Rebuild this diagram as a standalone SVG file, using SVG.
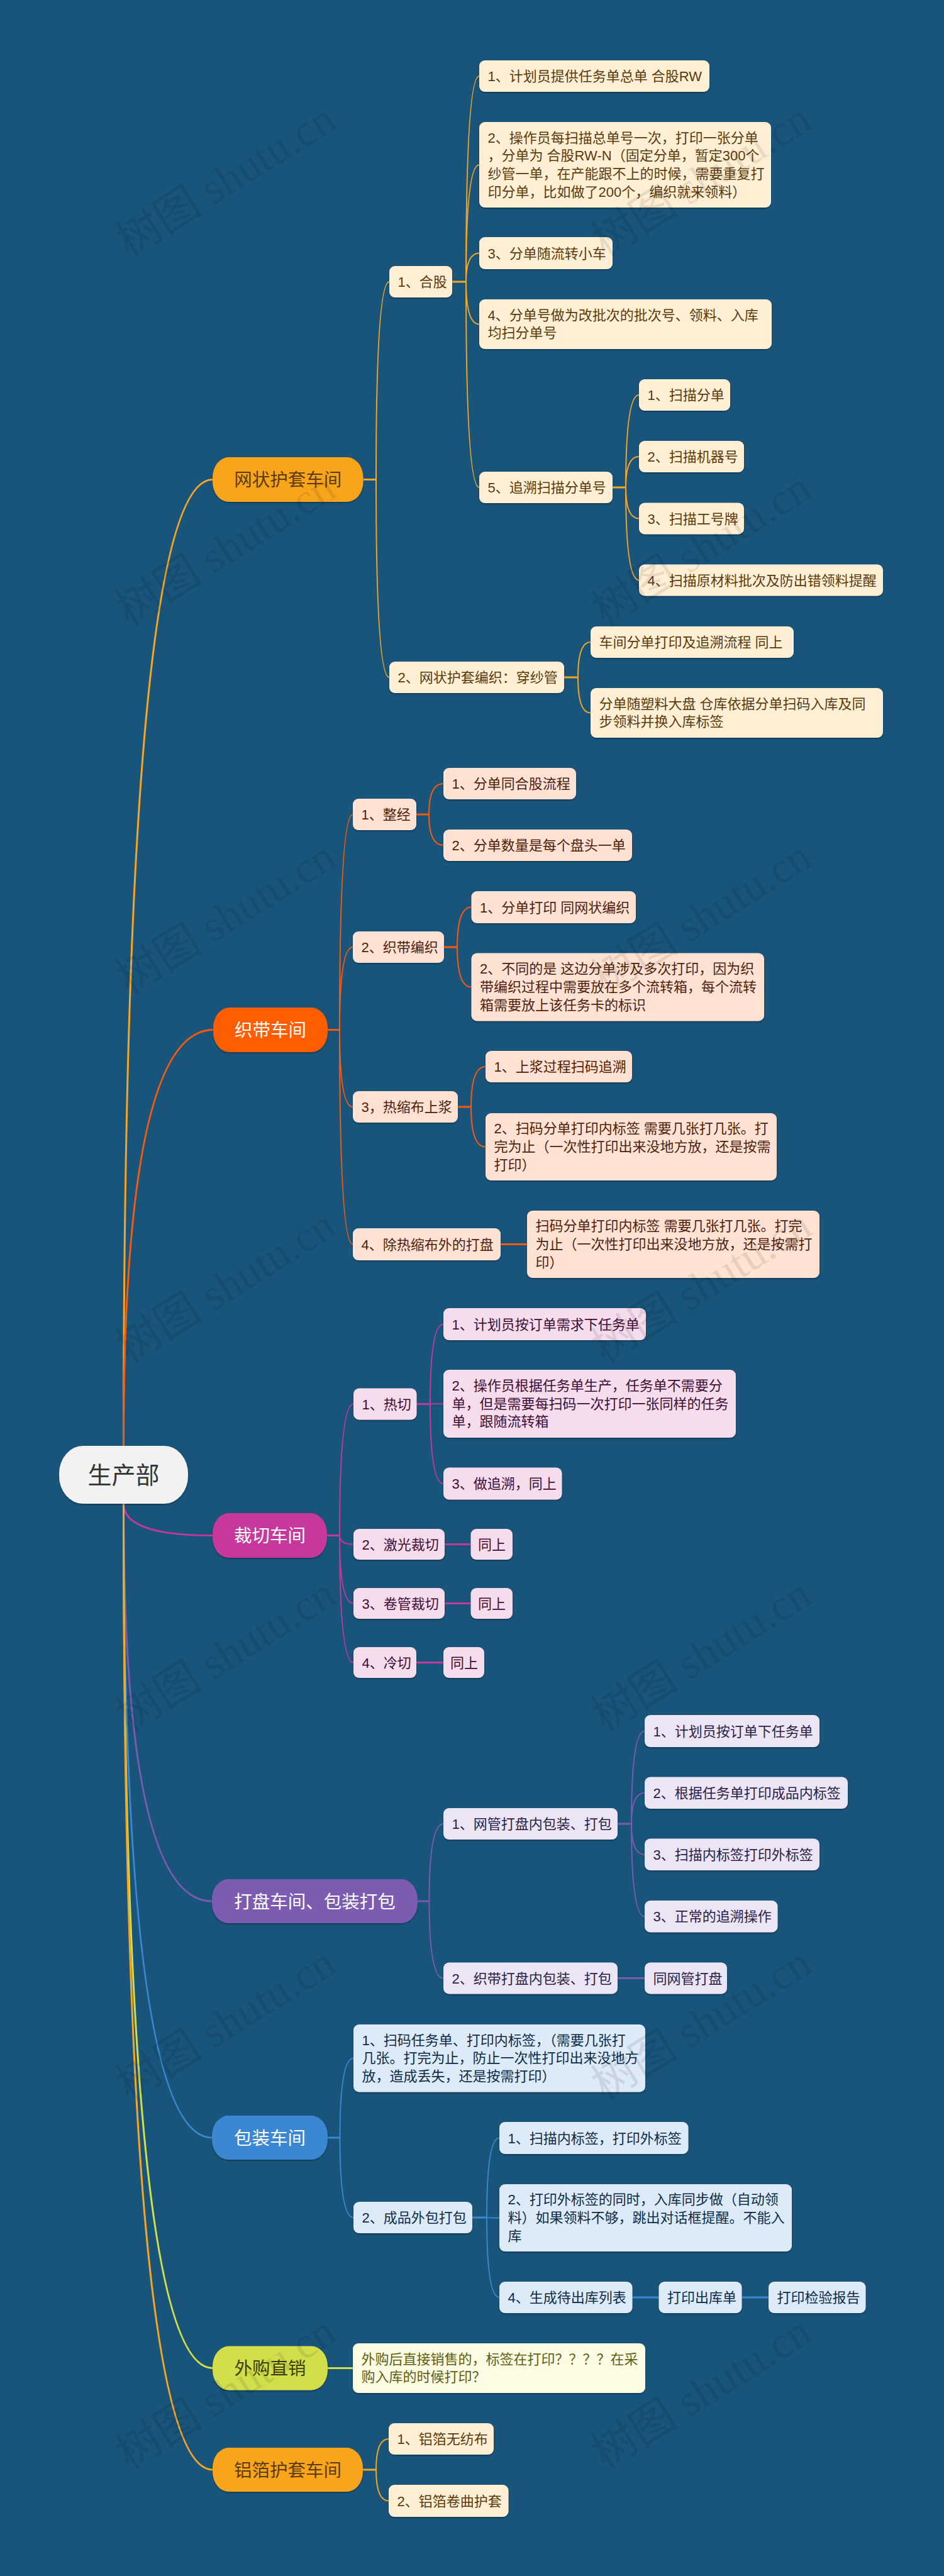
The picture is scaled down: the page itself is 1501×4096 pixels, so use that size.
<svg xmlns="http://www.w3.org/2000/svg" width="1501" height="4096" viewBox="0 0 1501 4096">
<defs>
<filter id="sh" x="-5%" y="-10%" width="110%" height="130%"><feDropShadow dx="0" dy="1.5" stdDeviation="0.8" flood-color="#000" flood-opacity="0.35"/></filter>
<style>
text{font-family:"Liberation Sans","Noto Sans CJK SC",sans-serif;font-size:22px}
.b{font-size:28.5px;text-anchor:middle}
.r{font-size:38px;text-anchor:middle;fill:#333}
.wm{font-family:"Liberation Serif","Noto Sans CJK SC",serif;font-size:70px;fill:#000;fill-opacity:0.09}
rect{filter:url(#sh)}
.f1{fill:#fff0d5}.f2{fill:#ffe2d3}.f3{fill:#f6ddee}.f4{fill:#ece5f6}.f5{fill:#dcebf7}.f6{fill:#fcfbe4}
.c1{fill:#5b3a0b}.c2{fill:#4d1f0c}.c3{fill:#3f0d33}.c4{fill:#2b1e45}.c5{fill:#0e2c48}.c6{fill:#5f5f12}
.w{fill:#fff}
path{fill:none;stroke-width:2}
.s{stroke-width:3}
.k1{stroke:#f6a623}.k2{stroke:#fb5a0a}.k3{stroke:#c4389a}.k4{stroke:#7b5bb0}.k5{stroke:#3b87d0}.k6{stroke:#d2df4b}
</style>
</defs>
<rect x="0" y="0" width="1501" height="4096" fill="#19547a" style="filter:none"/>

<g id="connectors">
<!-- root to branches -->
<path class="k1 s" d="M196.5 2299 Q196.5 762.5 338 762.5"/>
<path class="k2 s" d="M196.5 2299 Q196.5 1637.5 339 1637.5"/>
<path class="k3 s" d="M196.5 2391 Q196.5 2441.5 338 2441.5"/>
<path class="k4 s" d="M196.5 2391 Q196.5 3023 337 3023"/>
<path class="k5 s" d="M196.5 2391 Q196.5 3399 337 3399"/>
<path class="k6 s" d="M196.5 2391 Q196.5 3765.5 338 3765.5"/>
<path class="k1 s" d="M196.5 2391 Q196.5 3927 338 3927"/>
<!-- B1 -->
<path class="k1 s" d="M577.5 762.5 H598"/>
<path class="k1" d="M598 762.5 Q598 448 619 448"/>
<path class="k1" d="M598 762.5 Q598 1077 619 1077"/>
<path class="k1 s" d="M719 448 H741"/>
<path class="k1" d="M741 448 Q741 121 762 121"/>
<path class="k1" d="M741 448 Q741 262 762 262"/>
<path class="k1" d="M741 448 Q741 402.5 762 402.5"/>
<path class="k1" d="M741 448 Q741 515.5 762 515.5"/>
<path class="k1" d="M741 448 Q741 775 762 775"/>
<path class="k1 s" d="M974 775 H995"/>
<path class="k1" d="M995 775 Q995 628 1016 628"/>
<path class="k1" d="M995 775 Q995 726 1016 726"/>
<path class="k1" d="M995 775 Q995 824.5 1016 824.5"/>
<path class="k1" d="M995 775 Q995 922.5 1016 922.5"/>
<path class="k1 s" d="M897 1077 H919"/>
<path class="k1" d="M919 1077 Q919 1021 939 1021"/>
<path class="k1" d="M919 1077 Q919 1133.5 939 1133.5"/>
<!-- B2 -->
<path class="k2 s" d="M521 1637.5 H540"/>
<path class="k2" d="M540 1637.5 Q540 1295 561 1295"/>
<path class="k2" d="M540 1637.5 Q540 1506 561 1506"/>
<path class="k2" d="M540 1637.5 Q540 1760 561 1760"/>
<path class="k2" d="M540 1637.5 Q540 1978.5 561 1978.5"/>
<path class="k2 s" d="M662 1295 H682"/>
<path class="k2" d="M682 1295 Q682 1246 705 1246"/>
<path class="k2" d="M682 1295 Q682 1344 705 1344"/>
<path class="k2 s" d="M706 1506 H727"/>
<path class="k2" d="M727 1506 Q727 1442.5 749.5 1442.5"/>
<path class="k2" d="M727 1506 Q727 1569.5 749.5 1569.5"/>
<path class="k2 s" d="M728 1760 H749"/>
<path class="k2" d="M749 1760 Q749 1696 772 1696"/>
<path class="k2" d="M749 1760 Q749 1823.5 772 1823.5"/>
<path class="k2 s" d="M796 1978.5 H838"/>
<!-- B3 -->
<path class="k3 s" d="M520 2441.5 H540"/>
<path class="k3" d="M540 2441.5 Q540 2232.5 562 2232.5"/>
<path class="k3" d="M540 2441.5 Q540 2455.5 562 2455.5"/>
<path class="k3" d="M540 2441.5 Q540 2549.5 562 2549.5"/>
<path class="k3" d="M540 2441.5 Q540 2643.5 562 2643.5"/>
<path class="k3 s" d="M662.5 2232.5 H684"/>
<path class="k3" d="M684 2232.5 Q684 2105.5 705 2105.5"/>
<path class="k3" d="M684 2232.5 Q684 2232 705 2232"/>
<path class="k3" d="M684 2232.5 Q684 2359 705 2359"/>
<path class="k3 s" d="M707 2455.5 H748.5"/>
<path class="k3 s" d="M707 2549.5 H748.5"/>
<path class="k3 s" d="M662 2643.5 H705"/>
<!-- B4 -->
<path class="k4 s" d="M664 3023 H682.5"/>
<path class="k4" d="M682.5 3023 Q682.5 2900 705 2900"/>
<path class="k4" d="M682.5 3023 Q682.5 3145.5 705 3145.5"/>
<path class="k4 s" d="M982 2900 H1004"/>
<path class="k4" d="M1004 2900 Q1004 2752.5 1025 2752.5"/>
<path class="k4" d="M1004 2900 Q1004 2850.75 1025 2850.75"/>
<path class="k4" d="M1004 2900 Q1004 2948.75 1025 2948.75"/>
<path class="k4" d="M1004 2900 Q1004 3047.25 1025 3047.25"/>
<path class="k4 s" d="M982 3145.5 H1025"/>
<!-- B5 -->
<path class="k5 s" d="M521 3399 H540.5"/>
<path class="k5" d="M540.5 3399 Q540.5 3272.75 562 3272.75"/>
<path class="k5" d="M540.5 3399 Q540.5 3526 562 3526"/>
<path class="k5 s" d="M751 3526 H774"/>
<path class="k5" d="M774 3526 Q774 3399.5 794 3399.5"/>
<path class="k5" d="M774 3526 Q774 3526.5 794 3526.5"/>
<path class="k5" d="M774 3526 Q774 3653 794 3653"/>
<path class="k5 s" d="M1005.5 3653 H1047.5"/>
<path class="k5 s" d="M1179.5 3653 H1222"/>
<!-- B6 -->
<path class="k6 s" d="M521 3765.5 H561"/>
<!-- B7 -->
<path class="k1 s" d="M577 3927 H598"/>
<path class="k1" d="M598 3927 Q598 3878 618 3878"/>
<path class="k1" d="M598 3927 Q598 3976.5 618 3976.5"/>
</g>

<g id="root"><rect x="94" y="2299" width="205" height="92" rx="38" ry="44" fill="#f2f2f2"/><text class="r" x="196.5" y="2359">生产部</text></g>

<!-- Branch 1 -->
<g id="b1"><rect x="338" y="727" width="239.5" height="71" rx="26" ry="32" fill="#f9a51e"/><text class="b c1" x="457.75" y="773">网状护套车间</text></g>
<g id="b1-1"><rect class="f1" x="619" y="423" width="100" height="50" rx="9"/><text class="c1" x="632.5" y="456">1、合股</text></g>
<g id="b1-1-1"><rect class="f1" x="762" y="96" width="366" height="50" rx="9"/><text class="c1" x="775.5" y="129">1、计划员提供任务单总单 合股RW</text></g>
<g id="b1-1-2"><rect class="f1" x="762" y="194" width="464" height="136" rx="9"/><text class="c1" x="775.5" y="226.5">2、操作员每扫描总单号一次，打印一张分单<tspan x="775.5" y="255.2">，分单为 合股RW-N（固定分单，暂定300个</tspan><tspan x="775.5" y="283.9">纱管一单，在产能跟不上的时候，需要重复打</tspan><tspan x="775.5" y="312.6">印分单，比如做了200个，编织就来领料）</tspan></text></g>
<g id="b1-1-3"><rect class="f1" x="762" y="377" width="212" height="51" rx="9"/><text class="c1" x="775.5" y="410.5">3、分单随流转小车</text></g>
<g id="b1-1-4"><rect class="f1" x="762" y="476" width="465" height="79" rx="9"/><text class="c1" x="775.5" y="508.7">4、分单号做为改批次的批次号、领料、入库<tspan x="775.5" y="537.4">均扫分单号</tspan></text></g>
<g id="b1-1-5"><rect class="f1" x="762" y="750" width="212" height="50" rx="9"/><text class="c1" x="775.5" y="783">5、追溯扫描分单号</text></g>
<g id="b1-1-5-1"><rect class="f1" x="1016" y="603" width="145" height="50" rx="9"/><text class="c1" x="1029.5" y="636">1、扫描分单</text></g>
<g id="b1-1-5-2"><rect class="f1" x="1016" y="701" width="167" height="50" rx="9"/><text class="c1" x="1029.5" y="734">2、扫描机器号</text></g>
<g id="b1-1-5-3"><rect class="f1" x="1016" y="799.5" width="167" height="50" rx="9"/><text class="c1" x="1029.5" y="832.5">3、扫描工号牌</text></g>
<g id="b1-1-5-4"><rect class="f1" x="1016" y="897.5" width="388" height="50" rx="9"/><text class="c1" x="1029.5" y="930.5">4、扫描原材料批次及防出错领料提醒</text></g>
<g id="b1-2"><rect class="f1" x="619" y="1052" width="278" height="50" rx="9"/><text class="c1" x="632.5" y="1085">2、网状护套编织：穿纱管</text></g>
<g id="b1-2-1"><rect class="f1" x="939" y="996" width="323" height="50" rx="9"/><text class="c1" x="952.5" y="1029">车间分单打印及追溯流程 同上</text></g>
<g id="b1-2-2"><rect class="f1" x="939" y="1094" width="465" height="79" rx="9"/><text class="c1" x="952.5" y="1126.7">分单随塑料大盘 仓库依据分单扫码入库及同<tspan x="952.5" y="1155.4">步领料并换入库标签</tspan></text></g>

<!-- Branch 2 -->
<g id="b2"><rect x="339" y="1602" width="182" height="71" rx="26" ry="32" fill="#fe5d05"/><text class="b w" x="430" y="1648">织带车间</text></g>
<g id="b2-1"><rect class="f2" x="561" y="1270" width="101" height="50" rx="9"/><text class="c2" x="574.5" y="1303">1、整经</text></g>
<g id="b2-1-1"><rect class="f2" x="705" y="1221" width="211" height="50" rx="9"/><text class="c2" x="718.5" y="1254">1、分单同合股流程</text></g>
<g id="b2-1-2"><rect class="f2" x="705" y="1319" width="300" height="50" rx="9"/><text class="c2" x="718.5" y="1352">2、分单数量是每个盘头一单</text></g>
<g id="b2-2"><rect class="f2" x="561" y="1481" width="145" height="50" rx="9"/><text class="c2" x="574.5" y="1514">2、织带编织</text></g>
<g id="b2-2-1"><rect class="f2" x="749.5" y="1417" width="261.5" height="51" rx="9"/><text class="c2" x="763" y="1450.5">1、分单打印 同网状编织</text></g>
<g id="b2-2-2"><rect class="f2" x="749.5" y="1515.5" width="465.5" height="108" rx="9"/><text class="c2" x="763" y="1548.3">2、不同的是 这边分单涉及多次打印，因为织<tspan x="763" y="1577">带编织过程中需要放在多个流转箱，每个流转</tspan><tspan x="763" y="1605.7">箱需要放上该任务卡的标识</tspan></text></g>
<g id="b2-3"><rect class="f2" x="561" y="1735" width="167" height="50" rx="9"/><text class="c2" x="574.5" y="1768">3，热缩布上浆</text></g>
<g id="b2-3-1"><rect class="f2" x="772" y="1671" width="233" height="50" rx="9"/><text class="c2" x="785.5" y="1704">1、上浆过程扫码追溯</text></g>
<g id="b2-3-2"><rect class="f2" x="772" y="1770" width="463" height="107" rx="9"/><text class="c2" x="785.5" y="1802.3">2、扫码分单打印内标签 需要几张打几张。打<tspan x="785.5" y="1831">完为止（一次性打印出来没地方放，还是按需</tspan><tspan x="785.5" y="1859.7">打印）</tspan></text></g>
<g id="b2-4"><rect class="f2" x="561" y="1953" width="235" height="51" rx="9"/><text class="c2" x="574.5" y="1986.5">4、除热缩布外的打盘</text></g>
<g id="b2-4-1"><rect class="f2" x="838" y="1925" width="465" height="107" rx="9"/><text class="c2" x="851.5" y="1957.3">扫码分单打印内标签 需要几张打几张。打完<tspan x="851.5" y="1986">为止（一次性打印出来没地方放，还是按需打</tspan><tspan x="851.5" y="2014.7">印）</tspan></text></g>

<!-- Branch 3 -->
<g id="b3"><rect x="338" y="2406" width="182" height="71" rx="26" ry="32" fill="#c6389b"/><text class="b w" x="429" y="2452">裁切车间</text></g>
<g id="b3-1"><rect class="f3" x="562" y="2207.5" width="100.5" height="50" rx="9"/><text class="c3" x="575.5" y="2240.5">1、热切</text></g>
<g id="b3-1-1"><rect class="f3" x="705" y="2080" width="322" height="51" rx="9"/><text class="c3" x="718.5" y="2113.5">1、计划员按订单需求下任务单</text></g>
<g id="b3-1-2"><rect class="f3" x="705" y="2178" width="465" height="108" rx="9"/><text class="c3" x="718.5" y="2210.8">2、操作员根据任务单生产，任务单不需要分<tspan x="718.5" y="2239.5">单，但是需要每扫码一次打印一张同样的任务</tspan><tspan x="718.5" y="2268.2">单，跟随流转箱</tspan></text></g>
<g id="b3-1-3"><rect class="f3" x="705" y="2333.5" width="188.5" height="51" rx="9"/><text class="c3" x="718.5" y="2367">3、做追溯，同上</text></g>
<g id="b3-2"><rect class="f3" x="562" y="2431" width="145" height="49" rx="9"/><text class="c3" x="575.5" y="2463.5">2、激光裁切</text></g>
<g id="b3-2-1"><rect class="f3" x="748.5" y="2431" width="66.5" height="49" rx="9"/><text class="c3" x="760" y="2463.5">同上</text></g>
<g id="b3-3"><rect class="f3" x="562" y="2525" width="145" height="49" rx="9"/><text class="c3" x="575.5" y="2557.5">3、卷管裁切</text></g>
<g id="b3-3-1"><rect class="f3" x="748.5" y="2525" width="66.5" height="49" rx="9"/><text class="c3" x="760" y="2557.5">同上</text></g>
<g id="b3-4"><rect class="f3" x="562" y="2619" width="100" height="49" rx="9"/><text class="c3" x="575.5" y="2651.5">4、冷切</text></g>
<g id="b3-4-1"><rect class="f3" x="705" y="2619" width="65" height="49" rx="9"/><text class="c3" x="716" y="2651.5">同上</text></g>

<!-- Branch 4 -->
<g id="b4"><rect x="337" y="2988" width="327" height="70" rx="26" ry="32" fill="#7c5bb1"/><text class="b w" x="500.5" y="3033.5">打盘车间、包装打包</text></g>
<g id="b4-1"><rect class="f4" x="705" y="2875" width="277" height="50" rx="9"/><text class="c4" x="718.5" y="2908">1、网管打盘内包装、打包</text></g>
<g id="b4-1-1"><rect class="f4" x="1025" y="2727" width="278" height="51" rx="9"/><text class="c4" x="1038.5" y="2760.5">1、计划员按订单下任务单</text></g>
<g id="b4-1-2"><rect class="f4" x="1025" y="2825.5" width="323" height="50.5" rx="9"/><text class="c4" x="1038.5" y="2858.8">2、根据任务单打印成品内标签</text></g>
<g id="b4-1-3"><rect class="f4" x="1025" y="2923.5" width="278" height="50.5" rx="9"/><text class="c4" x="1038.5" y="2956.8">3、扫描内标签打印外标签</text></g>
<g id="b4-1-4"><rect class="f4" x="1025" y="3022" width="211.5" height="50.5" rx="9"/><text class="c4" x="1038.5" y="3055.3">3、正常的追溯操作</text></g>
<g id="b4-2"><rect class="f4" x="705" y="3120.5" width="277" height="50" rx="9"/><text class="c4" x="718.5" y="3153.5">2、织带打盘内包装、打包</text></g>
<g id="b4-2-1"><rect class="f4" x="1025" y="3120.5" width="131" height="50" rx="9"/><text class="c4" x="1038.5" y="3153.5">同网管打盘</text></g>

<!-- Branch 5 -->
<g id="b5"><rect x="337" y="3364" width="184" height="70" rx="26" ry="32" fill="#3b87d2"/><text class="b w" x="429" y="3409.5">包装车间</text></g>
<g id="b5-1"><rect class="f5" x="562" y="3219" width="464" height="107.5" rx="9"/><text class="c5" x="575.5" y="3251.6">1、扫码任务单、打印内标签，（需要几张打<tspan x="575.5" y="3280.3">几张。打完为止，防止一次性打印出来没地方</tspan><tspan x="575.5" y="3309">放，造成丢失，还是按需打印）</tspan></text></g>
<g id="b5-2"><rect class="f5" x="562" y="3501" width="189" height="50" rx="9"/><text class="c5" x="575.5" y="3534">2、成品外包打包</text></g>
<g id="b5-2-1"><rect class="f5" x="794" y="3374" width="300.5" height="51" rx="9"/><text class="c5" x="807.5" y="3407.5">1、扫描内标签，打印外标签</text></g>
<g id="b5-2-2"><rect class="f5" x="794" y="3473" width="465" height="107" rx="9"/><text class="c5" x="807.5" y="3505.3">2、打印外标签的同时，入库同步做（自动领<tspan x="807.5" y="3534">料）如果领料不够，跳出对话框提醒。不能入</tspan><tspan x="807.5" y="3562.7">库</tspan></text></g>
<g id="b5-2-3"><rect class="f5" x="794" y="3628" width="211.5" height="50" rx="9"/><text class="c5" x="807.5" y="3661">4、生成待出库列表</text></g>
<g id="b5-2-3-1"><rect class="f5" x="1047.5" y="3628" width="132" height="50" rx="9"/><text class="c5" x="1061" y="3661">打印出库单</text></g>
<g id="b5-2-3-2"><rect class="f5" x="1222" y="3628" width="154.5" height="50" rx="9"/><text class="c5" x="1235.5" y="3661">打印检验报告</text></g>

<!-- Branch 6 -->
<g id="b6"><rect x="338" y="3730.5" width="183" height="70" rx="26" ry="32" fill="#d2df4b"/><text class="b c6" x="429.5" y="3776" style="fill:#3f3f0a">外购直销</text></g>
<g id="b6-1"><rect class="f6" x="561" y="3726" width="465" height="79" rx="9"/><text class="c6" x="574.5" y="3758.7">外购后直接销售的，标签在打印？？？？在采<tspan x="574.5" y="3787.4">购入库的时候打印？</tspan></text></g>

<!-- Branch 7 -->
<g id="b7"><rect x="338" y="3892" width="239" height="70" rx="26" ry="32" fill="#f9a51e"/><text class="b c1" x="457.5" y="3937.5">铝箔护套车间</text></g>
<g id="b7-1"><rect class="f1" x="618" y="3853" width="167" height="50" rx="9"/><text class="c1" x="631.5" y="3886">1、铝箔无纺布</text></g>
<g id="b7-2"><rect class="f1" x="618" y="3951" width="190.5" height="51" rx="9"/><text class="c1" x="631.5" y="3984.5">2、铝箔卷曲护套</text></g>

<g id="watermarks">
<text class="wm" transform="translate(205 410) rotate(-32)">树图 shutu.cn</text>
<text class="wm" transform="translate(961.5 410) rotate(-32)">树图 shutu.cn</text>
<text class="wm" transform="translate(205 996.3) rotate(-32)">树图 shutu.cn</text>
<text class="wm" transform="translate(961.5 996.3) rotate(-32)">树图 shutu.cn</text>
<text class="wm" transform="translate(205 1582.6) rotate(-32)">树图 shutu.cn</text>
<text class="wm" transform="translate(961.5 1582.6) rotate(-32)">树图 shutu.cn</text>
<text class="wm" transform="translate(205 2168.9) rotate(-32)">树图 shutu.cn</text>
<text class="wm" transform="translate(961.5 2168.9) rotate(-32)">树图 shutu.cn</text>
<text class="wm" transform="translate(205 2755.2) rotate(-32)">树图 shutu.cn</text>
<text class="wm" transform="translate(961.5 2755.2) rotate(-32)">树图 shutu.cn</text>
<text class="wm" transform="translate(205 3341.5) rotate(-32)">树图 shutu.cn</text>
<text class="wm" transform="translate(961.5 3341.5) rotate(-32)">树图 shutu.cn</text>
<text class="wm" transform="translate(205 3927.8) rotate(-32)">树图 shutu.cn</text>
<text class="wm" transform="translate(961.5 3927.8) rotate(-32)">树图 shutu.cn</text>
</g>
</svg>
